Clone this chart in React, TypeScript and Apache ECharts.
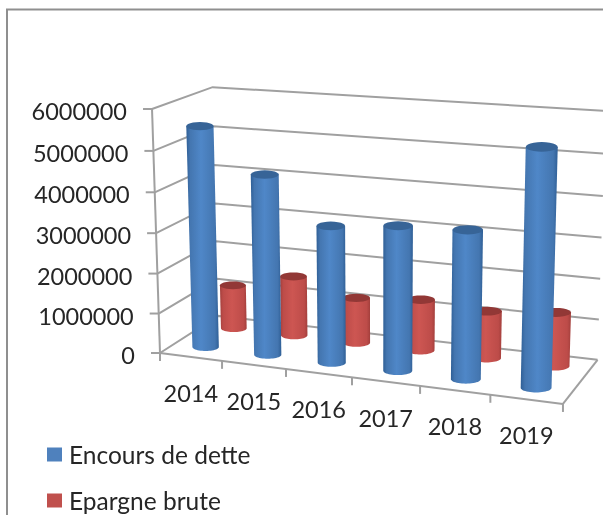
import React, { useEffect, useRef } from "react";
import * as echarts from "echarts";

const categories = ["2014", "2015", "2016", "2017", "2018", "2019"];
const yTicks = [0, 1000000, 2000000, 3000000, 4000000, 5000000, 6000000];
const encours = [5500000, 4450000, 3350000, 3500000, 3550000, 5570000];
const epargne = [1130000, 1530000, 1150000, 1280000, 1170000, 1320000];

const FONT = "Lato, Carlito, sans-serif";
const GRID = { left: 100, top: 100, width: 400, height: 300 };
const YMAX = 6000000;

// Projective box: u along categories, t along values, d into depth.
const A = [160, 352.3, -13.3, 73.3];
const B = [353, 14.6, -247.8, -15];
const C = [-0.09, -0.035, 0.07];
function project(u: number, t: number, d: number): [number, number] {
  const w = 1 + C[0] * u + C[1] * t + C[2] * d;
  return [
    (A[0] + A[1] * u + A[2] * t + A[3] * d) / w,
    (B[0] + B[1] * u + B[2] * t + B[3] * d) / w,
  ];
}
const toU = (px: number) => (px - GRID.left) / GRID.width;
const toT = (py: number) => (GRID.top + GRID.height - py) / GRID.height;

function ellipsePts(c: [number, number], rx: number, ry: number, from: number, to: number) {
  const pts: [number, number][] = [];
  const n = 24;
  for (let i = 0; i <= n; i++) {
    const a = from + ((to - from) * i) / n;
    pts.push([c[0] + rx * Math.cos(a), c[1] + ry * Math.sin(a)]);
  }
  return pts;
}

function cylinder(depth: number, halfU: number, body: string[], cap: string) {
  return (_p: any, api: any) => {
    const idx = api.value(0);
    const val = api.value(1);
    const base = api.coord([idx, 0]);
    const top = api.coord([idx, val]);
    const u = toU(base[0]);
    const t = toT(top[1]);
    const b = project(u, 0, depth);
    const a = project(u, t, depth);
    const rxB = (project(u + halfU, 0, depth)[0] - project(u - halfU, 0, depth)[0]) / 2;
    const rxA = (project(u + halfU, t, depth)[0] - project(u - halfU, t, depth)[0]) / 2;
    const ryA = rxA * 0.3;
    const ryB = rxB * 0.3;
    const outline = [
      [a[0] - rxA, a[1]],
      ...ellipsePts(b, rxB, ryB, Math.PI, 0),
      [a[0] + rxA, a[1]],
    ];
    const grad = new echarts.graphic.LinearGradient(0, 0, 1, 0, [
      { offset: 0, color: body[0] },
      { offset: 0.12, color: body[1] },
      { offset: 0.45, color: body[2] },
      { offset: 0.88, color: body[1] },
      { offset: 1, color: body[0] },
    ]);
    return {
      type: "group",
      children: [
        { type: "polygon", shape: { points: outline }, style: { fill: grad } },
        {
          type: "polygon",
          shape: { points: ellipsePts(a, rxA, ryA, 0, Math.PI * 2) },
          style: { fill: cap },
        },
      ],
    };
  };
}

const BLUE = ["#2f5f96", "#4476b0", "#4f87c8"];
const RED = ["#a33f3c", "#bd4c49", "#cd5652"];
const LINE = "#a0a0a0";

function legendFor(name: string, top: number) {
  return {
    data: [name],
    orient: "vertical",
    left: 47,
    top,
    padding: 0,
    itemWidth: 15,
    itemHeight: 14,
    icon: "rect",
    textStyle: {
      fontFamily: FONT,
      fontSize: 24.5,
      lineHeight: 14,
      color: "#262626",
      padding: [0, 0, 0, 2],
    },
  };
}

export default function App() {
  const ref = useRef<HTMLDivElement>(null);
  useEffect(() => {
    const chart = echarts.init(ref.current!, undefined, { renderer: "svg" });
    const lineStyle = { stroke: LINE, lineWidth: 2, fill: "none" };
    chart.setOption({
      animation: false,
      backgroundColor: "#ffffff",
      grid: { ...GRID },
      xAxis: { type: "category", data: categories, show: false },
      yAxis: { type: "value", min: 0, max: YMAX, interval: 1000000, show: false },
      legend: [legendFor("Encours de dette", 442), legendFor("Epargne brute", 488)],
      graphic: [
        {
          type: "rect",
          shape: { x: 7, y: 9.5, width: 800, height: 700 },
          style: { fill: "none", stroke: "#8f8f8f", lineWidth: 2 },
          silent: true,
          z: 0,
        },
      ],
      series: [
        {
          type: "custom",
          name: "grid lines",
          coordinateSystem: "cartesian2d",
          silent: true,
          clip: false,
          data: yTicks.map((v) => [0, v]),
          encode: { x: 0, y: 1 },
          renderItem: (_p: any, api: any) => {
            const v = api.value(1);
            const t = toT(api.coord([0, v])[1]);
            const f = project(0, t, 0);
            const bk = project(0, t, 1);
            const r = project(1, t, 1);
            const children: any[] = [
              { type: "polyline", shape: { points: [f, bk, r] }, style: lineStyle },
              { type: "line", shape: { x1: f[0], y1: f[1], x2: f[0] - 9, y2: f[1] }, style: lineStyle },
              {
                type: "text",
                style: {
                  text: String(v),
                  x: f[0] - 25,
                  y: f[1] + 2,
                  align: "right",
                  verticalAlign: "middle",
                  fontSize: 23.5,
                  fontFamily: FONT,
                  fill: "#262626",
                },
              },
            ];
            if (v === 0) {
              const fr = project(1, 0, 0);
              const top = project(0, 1, 0);
              children.push(
                { type: "line", shape: { x1: f[0], y1: f[1], x2: fr[0], y2: fr[1] }, style: lineStyle },
                { type: "line", shape: { x1: fr[0], y1: fr[1], x2: r[0], y2: r[1] }, style: lineStyle },
                { type: "line", shape: { x1: f[0], y1: f[1], x2: top[0], y2: top[1] }, style: lineStyle },
                { type: "line", shape: { x1: f[0], y1: f[1], x2: f[0], y2: f[1] + 8 }, style: lineStyle },
              );
            }
            return { type: "group", children };
          },
        },
        {
          type: "custom",
          name: "category labels",
          coordinateSystem: "cartesian2d",
          silent: true,
          clip: false,
          data: categories.map((_c, i) => [i, 0]),
          encode: { x: 0, y: 1 },
          renderItem: (_p: any, api: any) => {
            const i = api.value(0);
            const size = api.size([1, 0]);
            const u = toU(api.coord([i, 0])[0]);
            const du = size[0] / GRID.width / 2;
            const c = project(u, 0, 0);
            const e = project(u + du, 0, 0);
            return {
              type: "group",
              children: [
                { type: "line", shape: { x1: e[0], y1: e[1], x2: e[0], y2: e[1] + 8 }, style: lineStyle },
                {
                  type: "text",
                  style: {
                    text: categories[i],
                    x: c[0],
                    y: c[1] + 36,
                    align: "center",
                    verticalAlign: "middle",
                    fontSize: 23.5,
                    fontFamily: FONT,
                    fill: "#262626",
                  },
                },
              ],
            };
          },
        },
        {
          type: "custom",
          name: "Epargne brute",
          coordinateSystem: "cartesian2d",
          silent: true,
          clip: false,
          itemStyle: { color: "#c0504d" },
          data: epargne.map((v, i) => [i, v]),
          encode: { x: 0, y: 1 },
          renderItem: cylinder(0.75, 0.036, RED, "#923836"),
        },
        {
          type: "custom",
          name: "Encours de dette",
          coordinateSystem: "cartesian2d",
          silent: true,
          clip: false,
          itemStyle: { color: "#4f81bd" },
          data: encours.map((v, i) => [i, v]),
          encode: { x: 0, y: 1 },
          renderItem: cylinder(0.25, 0.036, BLUE, "#376497"),
        },
      ],
    });
    return () => chart.dispose();
  }, []);
  return (
    <div
      ref={ref}
      style={{
        position: "absolute",
        left: 0,
        top: 0,
        width: 603,
        height: 515,
        overflow: "hidden",
        filter: "blur(0.45px)",
      }}
    />
  );
}
